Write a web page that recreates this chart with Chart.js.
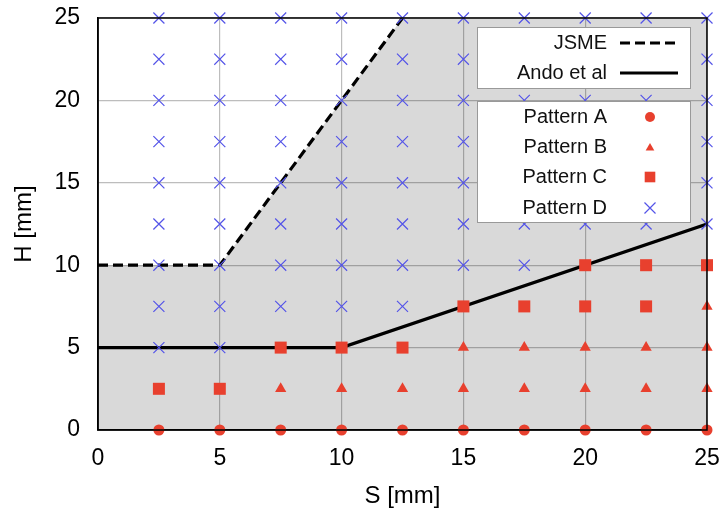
<!DOCTYPE html>
<html>
<head>
<meta charset="utf-8">
<script src="https://cdn.jsdelivr.net/npm/chart.js@4/dist/chart.umd.min.js"></script>
<style>
  html, body { margin: 0; padding: 0; background: #fff; }
  #wrap { width: 725px; height: 512px; }
</style>
</head>
<body>
<div id="wrap"><canvas id="c" width="725" height="512"></canvas></div>
<script>
// ---- axis ranges / ticks ----
const xRange = [0, 25];
const yRange = [0, 25];
const tickStep = 5;

// ---- boundary lines ----
const jsmeS = [0, 5, 12.5];
const jsmeH = [10, 10, 25];
const andoS = [0, 10, 25];
const andoH = [5, 5, 12.5];

// ---- experimental patterns ----
const patternA_S = [2.5, 5, 7.5, 10, 12.5, 15, 17.5, 20, 22.5, 25];
const patternA_H = [0, 0, 0, 0, 0, 0, 0, 0, 0, 0];

const patternB_S = [7.5, 10, 12.5, 15, 17.5, 20, 22.5, 25, 15, 17.5, 20, 22.5, 25, 25];
const patternB_H = [2.5, 2.5, 2.5, 2.5, 2.5, 2.5, 2.5, 2.5, 5, 5, 5, 5, 5, 7.5];

const patternC_S = [2.5, 5, 7.5, 10, 12.5, 15, 17.5, 20, 22.5, 20, 22.5, 25];
const patternC_H = [2.5, 2.5, 5, 5, 5, 7.5, 7.5, 7.5, 7.5, 10, 10, 10];

const patternD_S = [
  2.5, 2.5, 2.5, 2.5, 2.5, 2.5, 2.5, 2.5, 2.5,
  5, 5, 5, 5, 5, 5, 5, 5, 5,
  7.5, 7.5, 7.5, 7.5, 7.5, 7.5, 7.5, 7.5,
  10, 10, 10, 10, 10, 10, 10, 10,
  12.5, 12.5, 12.5, 12.5, 12.5, 12.5, 12.5, 12.5,
  15, 15, 15, 15, 15, 15, 15,
  17.5, 17.5, 17.5, 17.5, 17.5, 17.5, 17.5,
  20, 20, 20, 20, 20, 20,
  22.5, 22.5, 22.5, 22.5, 22.5, 22.5,
  25, 25, 25, 25, 25, 25
];
const patternD_H = [
  5, 7.5, 10, 12.5, 15, 17.5, 20, 22.5, 25,
  5, 7.5, 10, 12.5, 15, 17.5, 20, 22.5, 25,
  7.5, 10, 12.5, 15, 17.5, 20, 22.5, 25,
  7.5, 10, 12.5, 15, 17.5, 20, 22.5, 25,
  7.5, 10, 12.5, 15, 17.5, 20, 22.5, 25,
  10, 12.5, 15, 17.5, 20, 22.5, 25,
  10, 12.5, 15, 17.5, 20, 22.5, 25,
  12.5, 15, 17.5, 20, 22.5, 25,
  12.5, 15, 17.5, 20, 22.5, 25,
  12.5, 15, 17.5, 20, 22.5, 25
];

const lineLabels = ['JSME', 'Ando et al'];
const patternLabels = ['Pattern A', 'Pattern B', 'Pattern C', 'Pattern D'];

// ---- helpers ----
const zip = (xs, ys) => xs.map((x, i) => ({ x: x, y: ys[i] }));
const RED = '#e8402e';
const BLUE = '#5454e8';
const FONT = '"Liberation Sans", Arial, Helvetica, sans-serif';

// shaded region: under JSME line, extended to the top-right corner
const shadeData = zip(jsmeS, jsmeH).concat([{ x: xRange[1], y: yRange[1] }]);

const framePlugin = {
  id: 'frame',
  afterDatasetsDraw(chart) {
    const a = chart.chartArea, c = chart.ctx;
    c.save();
    c.strokeStyle = '#000';
    c.lineWidth = 1.5;
    c.strokeRect(a.left, a.top, a.right - a.left, a.bottom - a.top);
    c.restore();
  }
};

function drawMarker(c, style, x, y, r, fill, stroke) {
  c.save();
  c.fillStyle = fill; c.strokeStyle = stroke;
  c.beginPath();
  if (style === 'circle') {
    c.arc(x, y, r, 0, Math.PI * 2); c.fill();
  } else if (style === 'triangle') {
    for (let k = 0; k < 3; k++) {
      const ang = k * 2 * Math.PI / 3;
      const px = x + Math.sin(ang) * r, py = y - Math.cos(ang) * r;
      if (k === 0) c.moveTo(px, py); else c.lineTo(px, py);
    }
    c.closePath(); c.fill();
  } else if (style === 'rect') {
    const s = Math.SQRT1_2 * r;
    c.fillRect(x - s, y - s, 2 * s, 2 * s);
  } else if (style === 'crossRot') {
    const o = Math.SQRT1_2 * r;
    c.lineWidth = 1.2;
    c.moveTo(x - o, y - o); c.lineTo(x + o, y + o);
    c.moveTo(x + o, y - o); c.lineTo(x - o, y + o);
    c.stroke();
  }
  c.restore();
}

const legendPlugin = {
  id: 'customLegend',
  afterDraw(chart) {
    const c = chart.ctx;
    const ds = chart.data.datasets;
    c.save();
    c.fillStyle = '#fff';
    c.strokeStyle = '#999';
    c.lineWidth = 1;
    c.fillRect(477.5, 27.5, 213, 61);
    c.strokeRect(477.5, 27.5, 213, 61);
    c.fillRect(477.5, 101.5, 213, 121);
    c.strokeRect(477.5, 101.5, 213, 121);

    c.font = '20px ' + FONT;
    c.textAlign = 'right';
    c.textBaseline = 'middle';
    const lineRows = [43, 73];
    const lineSets = ds.filter(d => d.isBoundary);
    lineSets.forEach((d, i) => {
      c.fillStyle = '#111';
      c.fillText(d.label, 607, lineRows[i]);
      c.save();
      c.strokeStyle = d.borderColor;
      c.lineWidth = d.borderWidth;
      c.setLineDash(d.borderDash || []);
      c.beginPath();
      c.moveTo(620, lineRows[i]); c.lineTo(678, lineRows[i]);
      c.stroke();
      c.restore();
    });
    const ptRows = [117, 147, 177, 208];
    const ptSets = ds.filter(d => d.isPattern);
    ptSets.forEach((d, i) => {
      c.fillStyle = '#111';
      c.fillText(d.label, 607, ptRows[i]);
      const rr = d.pointStyle === 'crossRot' ? 7.8 : d.pointStyle === 'rect' ? 7.5 : 5;
      drawMarker(c, d.pointStyle, 650, ptRows[i] + (d.pointStyle === 'triangle' ? 1 : 0), rr, d.backgroundColor, d.borderColor);
    });
    c.restore();
  }
};

const tickFont = { family: FONT, size: 23 };
const titleFont = { family: FONT, size: 24 };

new Chart(document.getElementById('c'), {
  type: 'scatter',
  data: {
    datasets: [
      { label: patternLabels[0], isPattern: true, data: zip(patternA_S, patternA_H), pointStyle: 'circle', pointRadius: 5.5, backgroundColor: RED, borderColor: RED, borderWidth: 0, order: 0, clip: false },
      { label: patternLabels[1], isPattern: true, data: zip(patternB_S, patternB_H), pointStyle: 'triangle', pointRadius: 6.5, backgroundColor: RED, borderColor: RED, borderWidth: 0, order: 0, clip: false },
      { label: patternLabels[2], isPattern: true, data: zip(patternC_S, patternC_H), pointStyle: 'rect', pointRadius: 8.5, backgroundColor: RED, borderColor: RED, borderWidth: 0, order: 0, clip: false },
      { label: patternLabels[3], isPattern: true, data: zip(patternD_S, patternD_H), pointStyle: 'crossRot', pointRadius: 7.8, backgroundColor: BLUE, borderColor: BLUE, borderWidth: 1.2, order: 0, clip: false },
      { type: 'line', label: lineLabels[0], isBoundary: true, data: zip(jsmeS, jsmeH), borderColor: '#000', borderWidth: 3.2, borderDash: [10, 5], pointRadius: 0, fill: false, order: 1, tension: 0 },
      { type: 'line', label: lineLabels[1], isBoundary: true, data: zip(andoS, andoH), borderColor: '#000', borderWidth: 3.2, pointRadius: 0, fill: false, order: 1, tension: 0 },
      { type: 'line', label: 'shade', data: shadeData, borderWidth: 0, borderColor: 'rgba(0,0,0,0)', backgroundColor: 'rgba(0,0,0,0.15)', pointRadius: 0, fill: 'start', order: 2, tension: 0 }
    ]
  },
  options: {
    responsive: false,
    animation: false,
    events: [],
    layout: { padding: { top: 18, right: 18, left: 0, bottom: 0 } },
    plugins: {
      legend: { display: false },
      tooltip: { enabled: false }
    },
    scales: {
      x: {
        type: 'linear', min: xRange[0], max: xRange[1],
        ticks: { stepSize: tickStep, font: tickFont, color: '#000', padding: 1 },
        grid: { color: '#bdbdbd', lineWidth: 1.2, drawTicks: true, tickLength: 14, tickColor: 'rgba(0,0,0,0)' },
        border: { color: '#000', width: 1.5 },
        title: { display: true, text: 'S [mm]', font: titleFont, color: '#000', padding: { top: 0, bottom: 1 } },
        afterFit(s) { s.height = 82; }
      },
      y: {
        type: 'linear', min: yRange[0], max: yRange[1],
        ticks: { stepSize: tickStep, font: tickFont, color: '#000', padding: 2 },
        grid: { color: '#bdbdbd', lineWidth: 1.2, drawTicks: true, tickLength: 16, tickColor: 'rgba(0,0,0,0)' },
        border: { color: '#000', width: 1.5 },
        title: { display: true, text: 'H [mm]', font: titleFont, color: '#000', padding: { top: 10, bottom: 0 } },
        afterFit(s) { s.width = 98; }
      }
    }
  },
  plugins: [framePlugin, legendPlugin]
});
</script>
</body>
</html>
